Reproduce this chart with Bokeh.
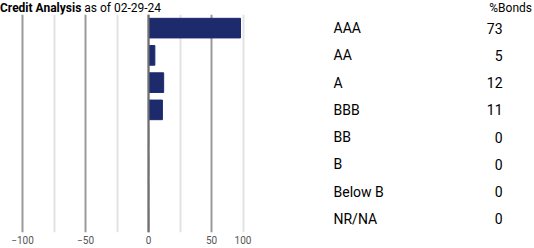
from bokeh.plotting import figure
from bokeh.models import FactorRange, Range1d, FixedTicker, Span, Div
from bokeh.layouts import column, row
from bokeh.core.properties import value
from bokeh.embed import file_html
from bokeh.resources import INLINE

FONT = "Roboto"

categories = ["AAA", "AA", "A", "BBB", "BB", "B", "Below B", "NR/NA"]
pct_bonds = [73, 5, 12, 11, 0, 0, 0, 0]
major_ticks = [-100, -50, 0, 50]
minor_ticks = [-75, -25, 25, 75]
# the "100" label is pinned to the right edge of the visible plot (at the 75 line)
label_ticks = [-100, -50, 0, 50, 75]
label_overrides = {75: "100"}
title_bold = "Credit Analysis"
title_rest = "as of 02-29-24"
value_header = "%Bonds"

factors = list(reversed(categories))

title = Div(
    text=(f'<div style="display:flex;justify-content:space-between;width:532px;'
          f'font-family:{FONT};font-size:12px;line-height:13px;color:#000">'
          f'<span><b>{title_bold}</b> {title_rest}</span><span>{value_header}</span></div>'),
    width=534, height=14, margin=0,
)

H = 234
left = figure(width=252, height=H, y_range=FactorRange(factors=factors),
              x_range=Range1d(-115.9, 82.5), output_backend="svg", toolbar_location=None,
              y_axis_location=None, min_border_left=2, min_border_right=0,
              min_border_top=0, min_border_bottom=16)
left.outline_line_color = None
left.ygrid.grid_line_color = None
left.xaxis.ticker = FixedTicker(ticks=label_ticks)
left.xaxis.major_label_overrides = label_overrides
left.xaxis.axis_line_color = None
left.xaxis.major_tick_line_color = None
left.xaxis.minor_tick_line_color = None
left.xaxis.major_tick_out = 0
left.xaxis.minor_tick_out = 0
left.xaxis.major_label_standoff = 3
left.xaxis.major_label_text_font = FONT
left.xaxis.major_label_text_font_size = "10px"
left.xaxis.major_label_text_color = "#555555"
left.xgrid.ticker = FixedTicker(ticks=major_ticks, minor_ticks=minor_ticks)
left.xgrid.grid_line_color = "#9a9a9a"
left.xgrid.grid_line_width = 2
left.xgrid.minor_grid_line_color = "#e2e2e2"
left.xgrid.minor_grid_line_width = 2
left.add_layout(Span(location=0, dimension="height", line_color="#707070", line_width=2))
left.hbar(y=categories, right=pct_bonds, left=0, height=0.72,
          fill_color="#1d2a6c", line_color="#1d2a6c", line_width=1)

right = figure(width=282, height=H, y_range=left.y_range, x_range=Range1d(0, 282),
               output_backend="svg", toolbar_location=None,
               x_axis_location=None, y_axis_location=None,
               min_border_left=0, min_border_right=0, min_border_top=0, min_border_bottom=16)
right.outline_line_color = None
right.grid.grid_line_color = None
right.text(x=81, y=categories, text=categories, text_baseline="middle",
           text_font=value(FONT), text_font_size="14px", text_color="#000000")
right.text(x=250, y=categories, text=[str(v) for v in pct_bonds], text_baseline="middle",
           text_align="right", text_font=value(FONT), text_font_size="14px", text_color="#000000")

layout = column(title, row(left, right, spacing=0), spacing=0)
open("out.html", "w").write(file_html(layout, INLINE))
